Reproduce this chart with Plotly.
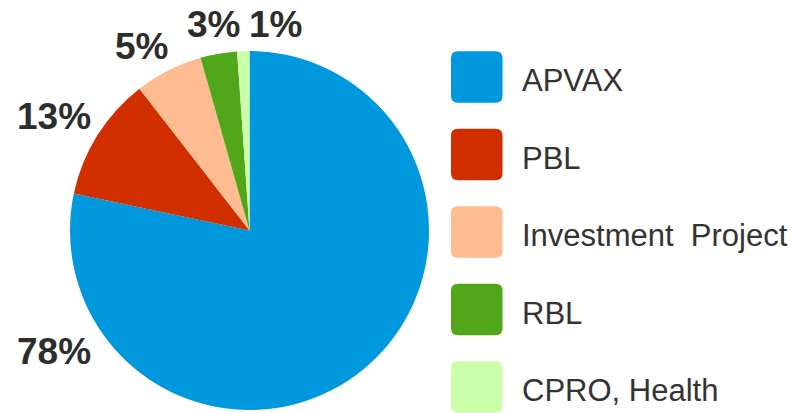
import plotly.graph_objects as go

W, H = 792, 413

categories = ["APVAX", "PBL", "Investment\u00a0\u00a0Project", "RBL", "CPRO, Health"]
shares = [78.3, 11.2, 6.1, 3.3, 1.1]
pct_labels = ["78%", "13%", "5%", "3%", "1%"]
colors = ["#0098DC", "#D22F00", "#FFBC91", "#52A61A", "#CCFFAA"]

# label centres (pixels) as placed in the reference
label_px = [(54, 351), (54, 116), (141, 47), (213, 24), (275, 24)]

def px(x, y):
    return x / W, 1 - y / H

cx, cy, r = 249.5, 230.5, 179.5
x0, y1 = px(cx - r, cy - r)
x1, y0 = px(cx + r, cy + r)

fig = go.Figure(go.Pie(
    labels=categories, values=shares, marker=dict(colors=colors, line=dict(width=0)),
    sort=False, direction="clockwise", rotation=0, textinfo="none",
    hoverinfo="label+percent", domain=dict(x=[x0, x1], y=[y0, y1]), showlegend=False,
))

annotations = []
for t, (lx, ly) in zip(pct_labels, label_px):
    ax, ay = px(lx, ly)
    annotations.append(dict(x=ax, y=ay, xref="paper", yref="paper", text=t, showarrow=False,
                            xanchor="center", yanchor="middle",
                            font=dict(family="Liberation Sans, Arial", size=37, color="#2d2d2d", weight="bold")))

shapes = []
sw_left, sw_size, rad = 451, 51.5, 7
centers = [77, 154.5, 232, 309.5, 387]

def P(x, y):
    a, b = px(x, y)
    return f"{a:.5f},{b:.5f}"

for cat, col, c in zip(categories, colors, centers):
    L, R = sw_left, sw_left + sw_size
    T, B = c - sw_size / 2, c + sw_size / 2
    path = (f"M {P(L+rad,T)} L {P(R-rad,T)} Q {P(R,T)} {P(R,T+rad)} L {P(R,B-rad)} Q {P(R,B)} {P(R-rad,B)} "
            f"L {P(L+rad,B)} Q {P(L,B)} {P(L,B-rad)} L {P(L,T+rad)} Q {P(L,T)} {P(L+rad,T)} Z")
    shapes.append(dict(type="path", path=path, xref="paper", yref="paper", fillcolor=col, line=dict(width=0)))
    tx, ty = px(520, c + 3.5)
    annotations.append(dict(x=tx, y=ty, xref="paper", yref="paper", text=cat, showarrow=False,
                            xanchor="left", yanchor="middle",
                            font=dict(family="Liberation Sans, Arial", size=31, color="#333333")))

fig.update_layout(width=W, height=H, margin=dict(l=0, r=0, t=0, b=0),
                  paper_bgcolor="white", plot_bgcolor="white",
                  annotations=annotations, shapes=shapes)
fig.write_html("out.html", config={"displayModeBar": False},
               post_script="document.body.style.margin='0';")
